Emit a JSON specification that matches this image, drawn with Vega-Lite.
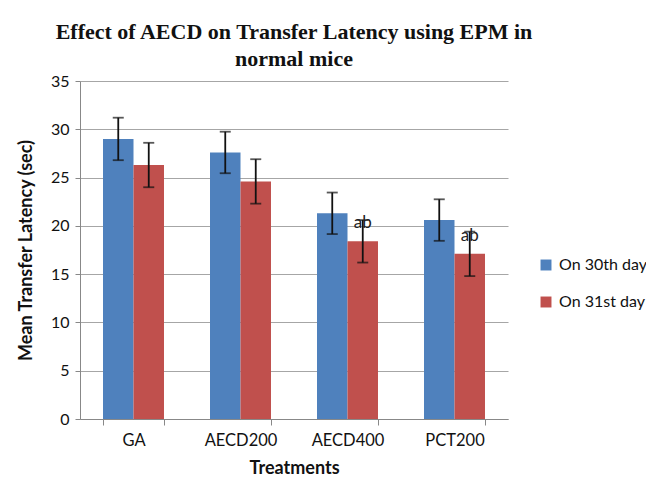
{
  "$schema": "https://vega.github.io/schema/vega-lite/v6.json",
  "autosize": "none",
  "width": 428,
  "height": 338,
  "padding": {"left": 80, "top": 81, "right": 138, "bottom": 62},
  "background": "white",
  "config": {"view": {"stroke": null}},
  "title": {
    "text": ["Effect of AECD on Transfer Latency using EPM in", "normal mice"],
    "font": "Liberation Serif",
    "fontSize": 22,
    "fontWeight": "bold",
    "color": "#111111",
    "lineHeight": 27,
    "offset": 2,
    "anchor": "middle"
  },
  "data": {
    "values": [
      {"Treatment": "GA", "Day": "On 30th day", "mean": 29.0, "err": 2.2, "label": ""},
      {"Treatment": "GA", "Day": "On 31st day", "mean": 26.3, "err": 2.3, "label": ""},
      {"Treatment": "AECD200", "Day": "On 30th day", "mean": 27.6, "err": 2.15, "label": ""},
      {"Treatment": "AECD200", "Day": "On 31st day", "mean": 24.6, "err": 2.3, "label": ""},
      {"Treatment": "AECD400", "Day": "On 30th day", "mean": 21.3, "err": 2.15, "label": ""},
      {"Treatment": "AECD400", "Day": "On 31st day", "mean": 18.4, "err": 2.2, "label": "ab"},
      {"Treatment": "PCT200", "Day": "On 30th day", "mean": 20.6, "err": 2.15, "label": ""},
      {"Treatment": "PCT200", "Day": "On 31st day", "mean": 17.1, "err": 2.3, "label": "ab"}
    ]
  },
  "encoding": {
    "x": {
      "field": "Treatment",
      "type": "nominal",
      "sort": ["GA", "AECD200", "AECD400", "PCT200"],
      "scale": {"paddingInner": 0.43, "paddingOuter": 0.215},
      "axis": {
        "title": "Treatments",
        "titleFont": "Lato",
        "titleFontSize": 18,
        "titleFontWeight": "bold",
        "titleColor": "#111111",
        "titlePadding": 11,
        "labelFont": "Lato",
        "labelFontSize": 16.5,
        "labelColor": "#111111",
        "labelAngle": 0,
        "labelPadding": 7,
        "tickBand": "extent",
        "tickSize": 6,
        "tickColor": "#888888",
        "domainColor": "#888888",
        "grid": false
      }
    },
    "xOffset": {"field": "Day", "type": "nominal", "sort": ["On 30th day", "On 31st day"], "scale": {"paddingInner": 0}}
  },
  "layer": [
    {
      "mark": {"type": "bar", "stroke": null},
      "encoding": {
        "y": {
          "field": "mean",
          "type": "quantitative",
          "title": "Mean Transfer Latency (sec)",
          "scale": {"domain": [0, 35], "nice": false},
          "axis": {
            "titleFont": "Lato",
            "titleFontSize": 18,
            "titleFontWeight": "bold",
            "titleColor": "#111111",
            "titlePadding": 15,
            "values": [0, 5, 10, 15, 20, 25, 30, 35],
            "labelFont": "Lato",
            "labelFontSize": 16,
            "labelColor": "#111111",
            "labelPadding": 6,
            "tickSize": 5,
            "tickColor": "#888888",
            "domainColor": "#888888",
            "gridColor": "#A6A6A6",
            "gridWidth": 1.2
          }
        },
        "color": {
          "field": "Day",
          "type": "nominal",
          "sort": ["On 30th day", "On 31st day"],
          "scale": {"range": ["#4F81BD", "#C0504D"]},
          "legend": {
            "title": null,
            "orient": "none",
            "legendX": 458,
            "legendY": 176,
            "symbolType": "square",
            "symbolSize": 120,
            "labelFont": "Lato",
            "labelFontSize": 16,
            "labelColor": "#111111",
            "rowPadding": 21,
            "labelOffset": 5
          }
        }
      }
    },
    {
      "mark": {"type": "errorbar", "ticks": {"size": 11, "color": "#111111", "thickness": 1.8}, "rule": {"color": "#111111", "strokeWidth": 1.8}},
      "encoding": {
        "y": {"field": "mean", "type": "quantitative", "title": "Mean Transfer Latency (sec)"},
        "yError": {"field": "err"}
      }
    },
    {
      "transform": [{"filter": "datum.label != ''"}],
      "mark": {"type": "text", "font": "Lato", "fontSize": 17, "color": "#222222", "baseline": "middle", "dy": -18},
      "encoding": {
        "y": {"field": "mean", "type": "quantitative", "title": "Mean Transfer Latency (sec)"},
        "text": {"field": "label"}
      }
    }
  ]
}
